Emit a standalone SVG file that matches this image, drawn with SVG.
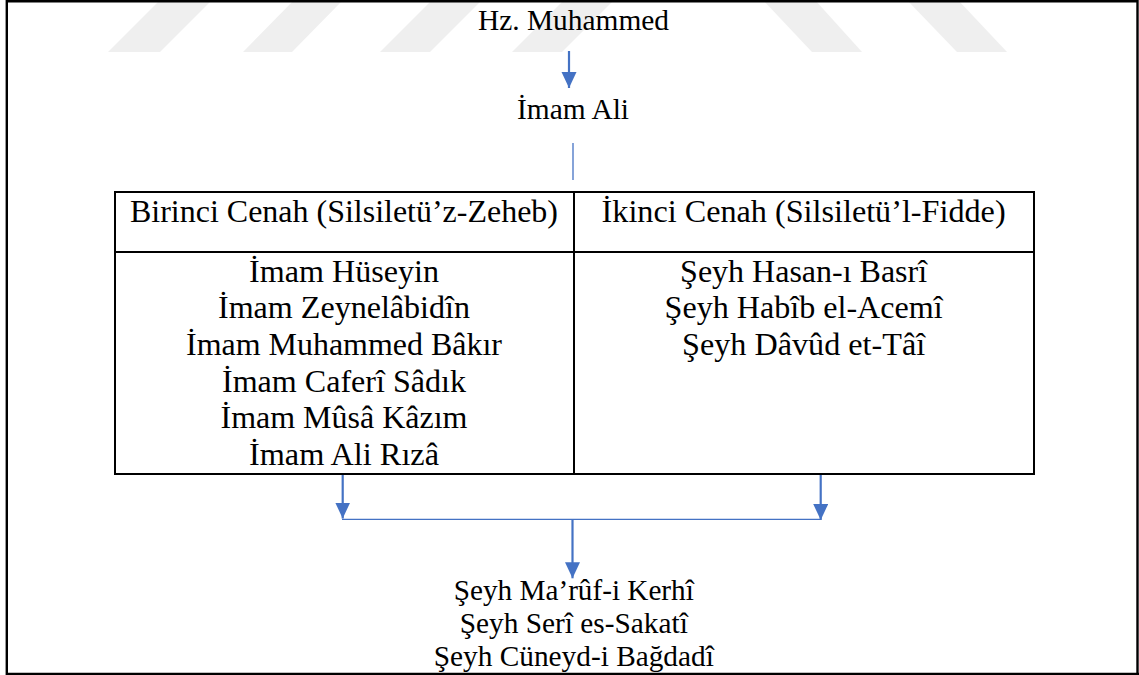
<svg xmlns="http://www.w3.org/2000/svg" width="1139" height="675" viewBox="0 0 1139 675">
  <style>
    .t { font-family: "Liberation Serif", "Times New Roman", serif; font-size: 29px; fill: #000; text-anchor: middle; }
    .tb { font-size: 32px; }
    .wm { fill: #efefef; }
    .frame { fill: none; stroke: #000; stroke-width: 2.4; }
    .tbl { fill: none; stroke: #000; stroke-width: 2; }
    .arr { fill: none; stroke: #4472C4; stroke-width: 2.2; }
    .thin { fill: none; stroke: #4472C4; stroke-width: 1.3; }
  </style>
  <defs>
    <marker id="ah" markerUnits="userSpaceOnUse" markerWidth="17" markerHeight="16" refX="16" refY="7.5" orient="auto" viewBox="0 0 17 16">
      <path d="M0,0 L16,7.5 L0,15 z" fill="#4472C4"/>
    </marker>
  </defs>
  <rect x="0" y="0" width="1139" height="675" fill="#fff"/>
  <g id="watermark">
    <polygon class="wm" points="108,52 160,52 212,0 160,0"/>
    <polygon class="wm" points="243,52 292,52 343,0 294,0"/>
    <polygon class="wm" points="380,52 430,52 482,0 432,0"/>
    <polygon class="wm" points="512,52 562,52 614,0 564,0"/>
    <polygon class="wm" points="763,0 815,0 862,52 812,52"/>
    <polygon class="wm" points="907,0 958,0 1007,52 957,52"/>
  </g>
  <g id="frame">
    <path class="frame" d="M6.8,1.3 H1137.5 M6.8,0 V674 H1139 M1137.5,0 V675"/>
  </g>
  <g id="connectors">
    <line class="arr" x1="569" y1="51" x2="569" y2="88" marker-end="url(#ah)"/>
    <line class="thin" x1="573" y1="143" x2="573" y2="180"/>
    <line class="arr" x1="342.7" y1="475" x2="342.7" y2="518.5" marker-end="url(#ah)"/>
    <line class="arr" x1="820.7" y1="475" x2="820.7" y2="520" marker-end="url(#ah)"/>
    <line class="thin" x1="342" y1="519.3" x2="821" y2="519.3"/>
    <line class="arr" x1="572.5" y1="519" x2="572.5" y2="578.3" marker-end="url(#ah)"/>
  </g>
  <g id="n-muhammed">
    <text class="t" x="573.5" y="30" textLength="191" lengthAdjust="spacingAndGlyphs">Hz. Muhammed</text>
  </g>
  <g id="n-ali">
    <text class="t" x="573" y="119" textLength="112" lengthAdjust="spacingAndGlyphs">İmam Ali</text>
  </g>
  <g id="n-table">
    <rect class="tbl" x="115" y="192" width="919" height="282"/>
    <line class="tbl" x1="574" y1="192" x2="574" y2="474"/>
    <line class="tbl" x1="115" y1="252" x2="1034" y2="252"/>
  </g>
  <g id="n-cenah1">
    <text class="t tb" x="344" y="222" textLength="428" lengthAdjust="spacingAndGlyphs">Birinci Cenah (Silsiletü’z-Zeheb)</text>
    <text class="t tb" x="344" y="281.7" textLength="190" lengthAdjust="spacingAndGlyphs">İmam Hüseyin</text>
    <text class="t tb" x="344" y="318.3" textLength="252" lengthAdjust="spacingAndGlyphs">İmam Zeynelâbidîn</text>
    <text class="t tb" x="344" y="355" textLength="316" lengthAdjust="spacingAndGlyphs">İmam Muhammed Bâkır</text>
    <text class="t tb" x="344" y="391.7" textLength="244" lengthAdjust="spacingAndGlyphs">İmam Caferî Sâdık</text>
    <text class="t tb" x="344" y="428.3" textLength="247" lengthAdjust="spacingAndGlyphs">İmam Mûsâ Kâzım</text>
    <text class="t tb" x="344" y="465" textLength="190" lengthAdjust="spacingAndGlyphs">İmam Ali Rızâ</text>
  </g>
  <g id="n-cenah2">
    <text class="t tb" x="803.6" y="222" textLength="404" lengthAdjust="spacingAndGlyphs">İkinci Cenah (Silsiletü’l-Fidde)</text>
    <text class="t tb" x="803.6" y="281.7" textLength="247" lengthAdjust="spacingAndGlyphs">Şeyh Hasan-ı Basrî</text>
    <text class="t tb" x="803.6" y="318.3" textLength="278" lengthAdjust="spacingAndGlyphs">Şeyh Habîb el-Acemî</text>
    <text class="t tb" x="803.6" y="355" textLength="243" lengthAdjust="spacingAndGlyphs">Şeyh Dâvûd et-Tâî</text>
  </g>
  <g id="n-bottom">
    <text class="t" x="573.8" y="600" textLength="240" lengthAdjust="spacingAndGlyphs">Şeyh Ma’rûf-i Kerhî</text>
    <text class="t" x="573.8" y="633.3" textLength="228" lengthAdjust="spacingAndGlyphs">Şeyh Serî es-Sakatî</text>
    <text class="t" x="573.8" y="665.7" textLength="280" lengthAdjust="spacingAndGlyphs">Şeyh Cüneyd-i Bağdadî</text>
  </g>
</svg>
